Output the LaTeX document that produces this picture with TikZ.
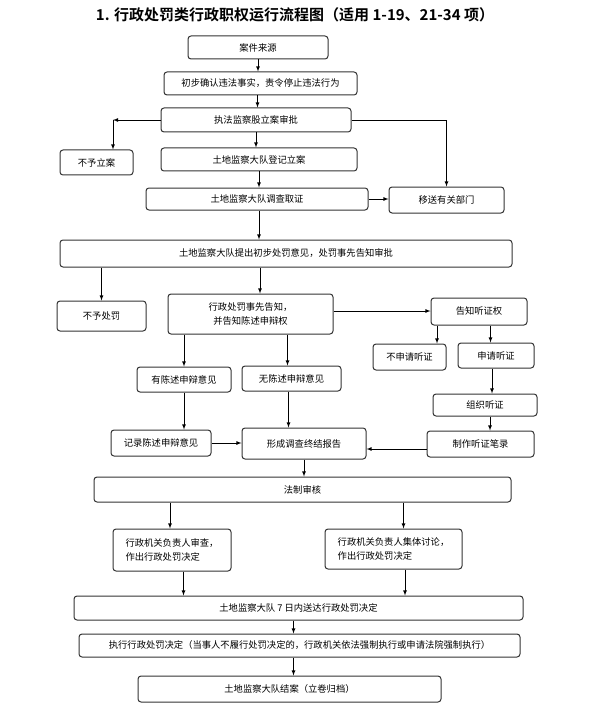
\documentclass[tikz,border=0pt]{standalone}
\usepackage{fontspec}
\setmainfont{Noto Sans CJK SC}[BoldFont={Noto Sans CJK SC Bold}]
\usetikzlibrary{arrows,positioning}
\tikzset{flowbox/.style={draw=black!80,line width=1pt,rounded corners=3pt,align=center,inner sep=1pt,font=\fontsize{9.3}{14}\selectfont},
    leftbox/.style={flowbox,align=left},
    flowarrow/.style={-latex,line width=0.8pt},
    titletext/.style={font=\fontsize{15}{18}\selectfont\bfseries}
}

\begin{document}
\begin{tikzpicture}[x=1pt,y=-1pt]

\useasboundingbox (0,0) rectangle (596,714);

\node (title) at (295,15) [titletext] {1. 行政处罚类行政职权运行流程图（适用 1-19、21-34 项）};

%% case filing
\node (source) at (258,47.5) [flowbox,minimum width=140,minimum height=23] {案件来源};
\node (confirm) at (260.5,83.5) [flowbox,minimum width=193,minimum height=23] {初步确认违法事实，责令停止违法行为};
\node (approve) at (256,120) [flowbox,minimum width=190,minimum height=24] {执法监察股立案审批};
\node (noreg) at (96.5,162.5) [flowbox,minimum width=73,minimum height=25] {不予立案};
\node (register) at (259,159.5) [flowbox,minimum width=196,minimum height=23] {土地监察大队登记立案};
\node (investigate) at (257,199) [flowbox,minimum width=222,minimum height=22] {土地监察大队调查取证};
\node (transfer) at (446.5,200) [flowbox,minimum width=115,minimum height=26] {移送有关部门};

\coordinate (noregturn) at (113,120);

\draw [flowarrow] (source.south) -- (source.south |- confirm.north);
\draw [flowarrow] ([xshift=-3pt]confirm.south) -- ([xshift=-3pt]confirm.south |- approve.north);
\draw [flowarrow] (approve.west) -- (noregturn);
\draw [flowarrow] (noregturn) -- (noregturn |- noreg.north);
\draw [flowarrow] (approve.east) -| (transfer.north);
\draw [flowarrow] (approve.south) -- (approve.south |- register.north);
\draw [flowarrow] (register.south) -- (register.south |- investigate.north);
\draw [flowarrow] (investigate.east) -- (investigate.east -| transfer.west);

%% penalty notice
\node (proposal) at (286,253.5) [flowbox,minimum width=452,minimum height=27] {土地监察大队提出初步处罚意见，处罚事先告知审批};
\node (nopenalty) at (101.5,316) [flowbox,minimum width=89,minimum height=30] {不予处罚};
\node (notify) at (250.5,314) [flowbox,minimum width=165,minimum height=40] {行政处罚事先告知，\\并告知陈述申辩权};
\node (hearright) at (479,311.5) [flowbox,minimum width=96,minimum height=27] {告知听证权};
\node (nohear) at (409.5,357) [flowbox,minimum width=73,minimum height=26] {不申请听证};
\node (applyhear) at (496,355.5) [flowbox,minimum width=76,minimum height=25] {申请听证};
\node (hasplea) at (184,379.5) [flowbox,minimum width=94,minimum height=25] {有陈述申辩意见};
\node (noplea) at (291.5,378.5) [flowbox,minimum width=99,minimum height=25] {无陈述申辩意见};
\node (hold) at (485,405) [flowbox,minimum width=104,minimum height=22] {组织听证};

\draw [flowarrow] ([xshift=2pt]investigate.south) -- ([xshift=2pt]investigate.south |- proposal.north);
\draw [flowarrow] (proposal.south -| nopenalty) -- (nopenalty.north);
\draw [flowarrow] ([xshift=9.5pt]notify.north |- proposal.south) -- ([xshift=9.5pt]notify.north);
\draw [flowarrow] ([yshift=3pt]notify.east) -- ([yshift=3pt]notify.east -| hearright.west);
\draw [flowarrow] ([xshift=-42pt]hearright.south) -- ([xshift=-42pt]hearright.south |- nohear.north);
\draw [flowarrow] ([xshift=11.5pt]hearright.south) -- ([xshift=11.5pt]hearright.south |- applyhear.north);
\draw [flowarrow] ([xshift=-4pt]applyhear.south) -- ([xshift=-4pt]applyhear.south |- hold.north);
\draw [flowarrow] (notify.south -| hasplea) -- (hasplea.north);
\draw [flowarrow] ([xshift=-4pt]notify.south -| noplea) -- ([xshift=-4pt]noplea.north);

%% report and review
\node (record) at (161,443) [flowbox,minimum width=100,minimum height=26] {记录陈述申辩意见};
\node (report) at (304,443.5) [flowbox,minimum width=124,minimum height=31] {形成调查终结报告};
\node (minutes) at (480.5,444) [flowbox,minimum width=107,minimum height=26] {制作听证笔录};
\node (legal) at (302.5,489.5) [flowbox,minimum width=417,minimum height=25] {法制审核};
\node (review) at (172,550) [leftbox,minimum width=118,minimum height=42] {行政机关负责人审查，\\作出行政处罚决定};
\node (collective) at (393.5,549) [leftbox,minimum width=137,minimum height=40] {行政机关负责人集体讨论，\\作出行政处罚决定};

\draw [flowarrow] (hasplea.south -| record.north) ++(23pt,0) -- ([xshift=23pt]record.north);
\draw [flowarrow] ([xshift=-3pt]noplea.south) -- ([xshift=-3pt]noplea.south |- report.north);
\draw [flowarrow] (record.east) -- (record.east -| report.west);
\draw [flowarrow] ([xshift=5pt]hold.south) -- ([xshift=5pt]hold.south |- minutes.north);
\draw [flowarrow] ([yshift=-5pt]minutes.west) -- ([yshift=-5pt]minutes.west -| report.east);
\draw [flowarrow] (report.south) -- (report.south |- legal.north);
\draw [flowarrow] ([xshift=-2pt]legal.south -| review) -- ([xshift=-2pt]review.north);
\draw [flowarrow] ([xshift=10pt]collective.north |- legal.south) -- ([xshift=10pt]collective.north);

%% decision and closing
\node (deliver) at (298.5,608) [flowbox,minimum width=449,minimum height=24] {土地监察大队 7 日内送达行政处罚决定};
\node (execute) at (299.5,645.5) [flowbox,minimum width=441,minimum height=23] {执行行政处罚决定（当事人不履行处罚决定的，行政机关依法强制执行或申请法院强制执行）};
\node (close) at (289.5,689) [flowbox,minimum width=303,minimum height=26] {土地监察大队结案（立卷归档）};

\draw [flowarrow] ([xshift=11.5pt]review.south) -- ([xshift=11.5pt]review.south |- deliver.north);
\draw [flowarrow] ([xshift=11.5pt]collective.south) -- ([xshift=11.5pt]collective.south |- deliver.north);
\draw [flowarrow] ([xshift=-5pt]deliver.south) -- ([xshift=-5pt]deliver.south |- execute.north);
\draw [flowarrow] ([xshift=-6pt]execute.south) -- ([xshift=-6pt]execute.south |- close.north);

\end{tikzpicture}
\end{document}
